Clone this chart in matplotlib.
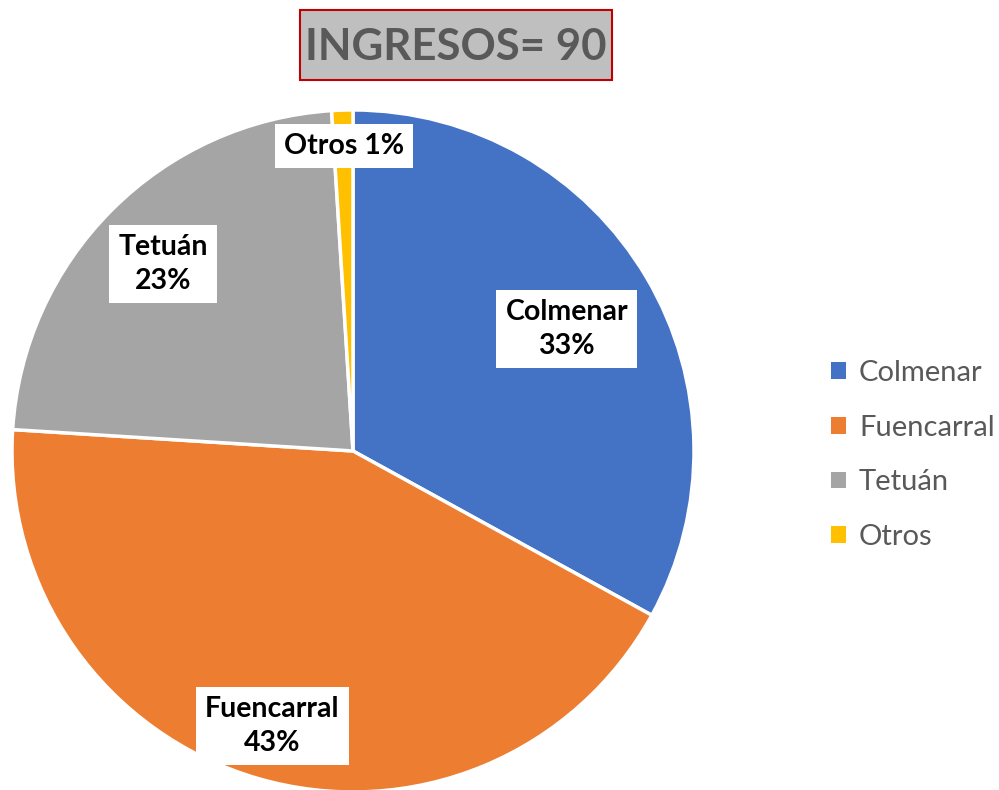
import matplotlib.pyplot as plt
from matplotlib.patches import Patch, Rectangle

labels = ['Colmenar', 'Fuencarral', 'Tetuán', 'Otros']
values = [33, 43, 23, 1]
colors = ['#4472C4', '#ED7D31', '#A5A5A5', '#FFC000']
title = 'INGRESOS= 90'

plt.rcParams['font.family'] = ['Lato', 'DejaVu Sans']

fig = plt.figure(figsize=(9.99, 7.9), dpi=100)
ax = fig.add_axes([0.012, -0.0025, 0.6827, 0.8633])

wedges, _ = ax.pie(values, colors=colors, startangle=90, counterclock=False,
                   radius=1.0, wedgeprops=dict(edgecolor='white', linewidth=2.5))
ax.set_xlim(-1, 1)
ax.set_ylim(-1, 1)
ax.set_aspect('equal')
ax.axis('off')

# data labels in white boxes
label_pos = [(0.627, 0.358), (-0.237, -0.806), (-0.557, 0.548), (-0.026, 0.894)]
for (x, y), lab, v in zip(label_pos, labels, values):
  if lab == 'Otros':
    txt = '%s %d%%' % (lab, v)
  else:
    txt = '%s\n%d%%' % (lab, v)
  ax.text(x, y, txt, ha='center', va='center', fontsize=20.5, fontweight='bold',
          color='black', linespacing=1.4,
          bbox=dict(boxstyle='square,pad=0.32', fc='white', ec='none'))

# title box
fig.patches.append(Rectangle((0.3003, 0.8987), 0.3123, 0.0886,
                             transform=fig.transFigure, fc='#BFBFBF',
                             ec='#C00000', lw=1.5))
fig.text(0.4565, 0.941, title, ha='center', va='center', fontsize=31.5,
         fontweight='bold', color='#595959')

# legend
handles = [Patch(facecolor=c, edgecolor='none') for c in colors]
fig.legend(handles, labels, loc='center left', bbox_to_anchor=(0.832, 0.424),
           frameon=False, fontsize=21, labelcolor='#595959', borderpad=0,
           borderaxespad=0, handlelength=0.5, handleheight=0.5,
           handletextpad=0.45, labelspacing=0.98)

fig.savefig('out.png', dpi=100)
